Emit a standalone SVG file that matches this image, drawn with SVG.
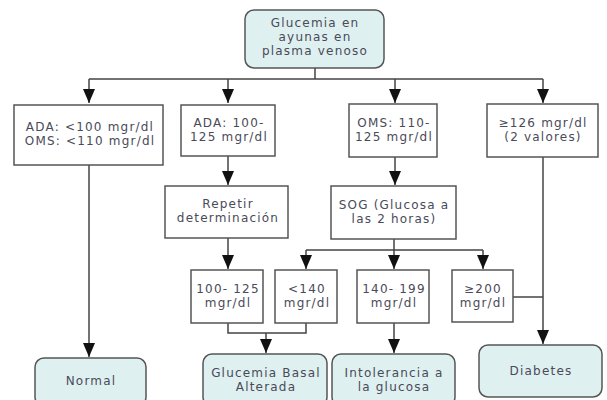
<svg xmlns="http://www.w3.org/2000/svg" width="607" height="400" viewBox="0 0 607 400">
<defs>
<marker id="ah" markerWidth="14" markerHeight="12" refX="14" refY="6" orient="auto" markerUnits="userSpaceOnUse" viewBox="0 0 14 12">
<path d="M0,0 L14,6 L0,12 Z" fill="#111"/>
</marker>
<style>
.t{font-family:"DejaVu Sans",Verdana,sans-serif;font-size:12px;fill:#4a4a58;text-anchor:middle;letter-spacing:1.2px}
.r{fill:#ffffff;stroke:#555;stroke-width:1.5}
.o{fill:#dff0f0;stroke:#555;stroke-width:1.5}
.c{fill:none;stroke:#444;stroke-width:1.5}
.a{fill:none;stroke:#444;stroke-width:1.5;marker-end:url(#ah)}
</style>
</defs>
<rect width="607" height="400" fill="#ffffff"/>
<g id="connectors">
<path class="c" d="M315,68 V79 M89,79 H543"/>
<path class="a" d="M89,79 V103"/>
<path class="a" d="M228,79 V103"/>
<path class="a" d="M395,79 V103"/>
<path class="a" d="M543,79 V103"/>
<path class="a" d="M89,165 V357"/>
<path class="a" d="M228,156 V185"/>
<path class="a" d="M395,157 V185"/>
<path class="a" d="M228,238 V269"/>
<path class="c" d="M394,239 V250 M306,250 H483"/>
<path class="a" d="M306,250 V269"/>
<path class="a" d="M394,250 V269"/>
<path class="a" d="M483,250 V269"/>
<path class="c" d="M228,323 V333 H306 V323"/>
<path class="a" d="M266,333 V353"/>
<path class="a" d="M394,323 V353"/>
<path class="a" d="M543,157 V344"/>
<path class="c" d="M513,297 H543"/>
</g>
<g id="n-top"><rect class="o" x="245" y="10" width="139" height="58" rx="9"/>
<text class="t" x="315" y="27">Glucemia en</text><text class="t" x="315" y="41">ayunas en</text><text class="t" x="315" y="55">plasma venoso</text></g>
<g id="n-ada100"><rect class="r" x="14" y="105" width="149" height="60"/>
<text class="t" x="90" y="131">ADA: &lt;100 mgr/dl</text><text class="t" x="90" y="145">OMS: &lt;110 mgr/dl</text></g>
<g id="n-ada125"><rect class="r" x="181" y="105" width="94" height="51"/>
<text class="t" x="229" y="127">ADA: 100-</text><text class="t" x="229" y="141">125 mgr/dl</text></g>
<g id="n-oms125"><rect class="r" x="349" y="104" width="88" height="53"/>
<text class="t" x="394" y="127">OMS: 110-</text><text class="t" x="394" y="141">125 mgr/dl</text></g>
<g id="n-126"><rect class="r" x="487" y="104" width="111" height="53"/>
<text class="t" x="543" y="127">≥126 mgr/dl</text><text class="t" x="543" y="141">(2 valores)</text></g>
<g id="n-repetir"><rect class="r" x="165" y="186" width="123" height="52"/>
<text class="t" x="228" y="208">Repetir</text><text class="t" x="228" y="222">determinación</text></g>
<g id="n-sog"><rect class="r" x="331" y="186" width="125" height="53"/>
<text class="t" x="394" y="209">SOG (Glucosa a</text><text class="t" x="394" y="223">las 2 horas)</text></g>
<g id="n-100125"><rect class="r" x="191" y="270" width="72" height="53"/>
<text class="t" x="228" y="293">100- 125</text><text class="t" x="228" y="307">mgr/dl</text></g>
<g id="n-140"><rect class="r" x="275" y="270" width="62" height="53"/>
<text class="t" x="307" y="293">&lt;140</text><text class="t" x="307" y="307">mgr/dl</text></g>
<g id="n-140199"><rect class="r" x="357" y="270" width="72" height="53"/>
<text class="t" x="394" y="293">140- 199</text><text class="t" x="394" y="307">mgr/dl</text></g>
<g id="n-200"><rect class="r" x="452" y="270" width="61" height="52"/>
<text class="t" x="483" y="293">≥200</text><text class="t" x="483" y="307">mgr/dl</text></g>
<g id="n-normal"><rect class="o" x="35" y="358" width="111" height="48" rx="9"/>
<text class="t" x="91" y="385">Normal</text></g>
<g id="n-gba"><rect class="o" x="203" y="354" width="124" height="52" rx="9"/>
<text class="t" x="266" y="377">Glucemia Basal</text><text class="t" x="266" y="391">Alterada</text></g>
<g id="n-int"><rect class="o" x="332" y="354" width="123" height="52" rx="9"/>
<text class="t" x="394" y="377">Intolerancia a</text><text class="t" x="394" y="391">la glucosa</text></g>
<g id="n-diab"><rect class="o" x="479" y="345" width="123" height="52" rx="9"/>
<text class="t" x="541" y="375">Diabetes</text></g>
</svg>
